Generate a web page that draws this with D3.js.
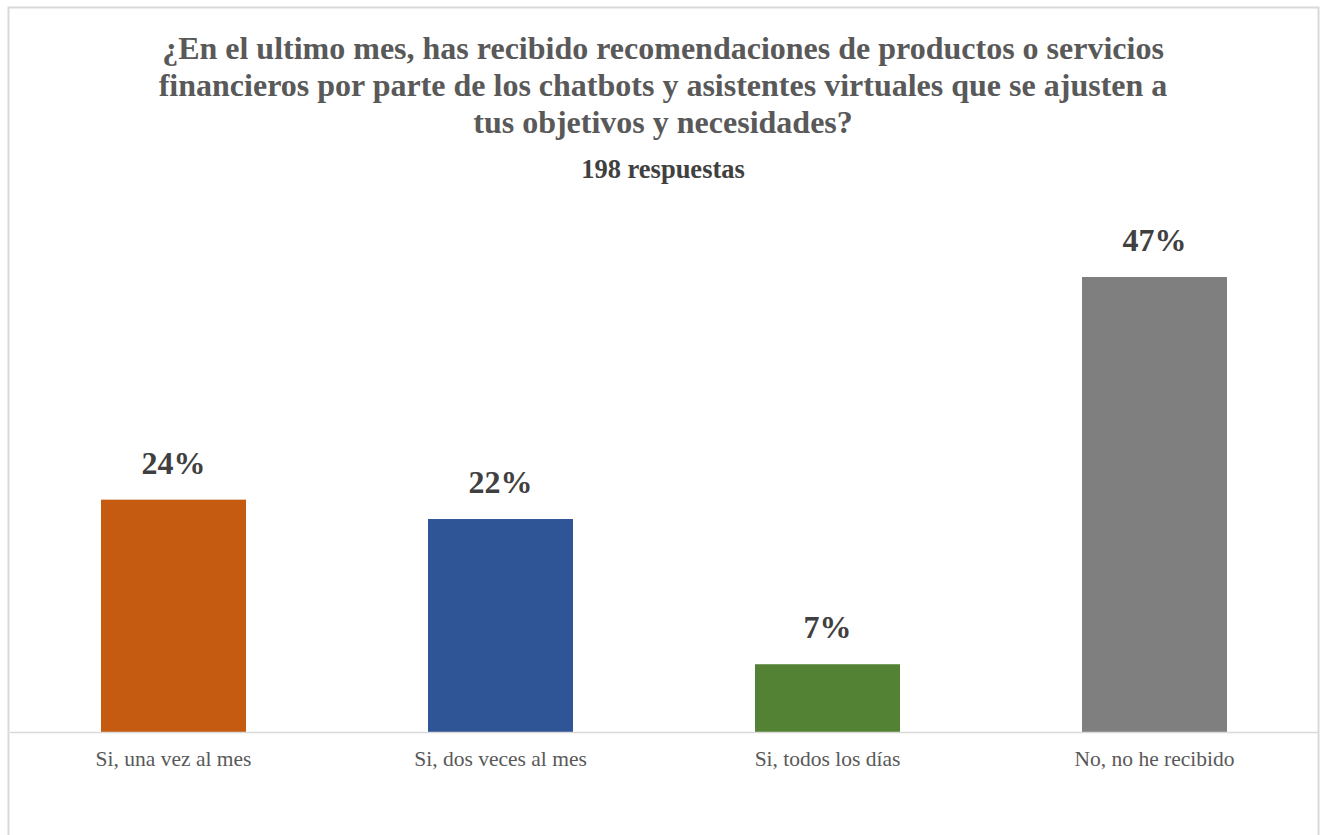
<!DOCTYPE html>
<html>
<head>
<meta charset="utf-8">
<script src="https://cdn.jsdelivr.net/npm/d3@7"></script>
<style>
  html, body { margin: 0; padding: 0; background: #ffffff; }
  svg { display: block; }
</style>
</head>
<body>
<svg id="chart" width="1320" height="835"></svg>
<script>
// Survey answers and their share of respondents (%)
const categories = ["Si, una vez al mes", "Si, dos veces al mes", "Si, todos los días", "No, no he recibido"];
const values = [24, 22, 7, 47];
const colors = ["#C55A11", "#2F5597", "#548235", "#7F7F7F"];
const titleLines = [
  "¿En el ultimo mes, has recibido recomendaciones de productos o servicios",
  "financieros por parte de los chatbots y asistentes virtuales que se ajusten a",
  "tus objetivos y necesidades?"
];
const subtitle = "198 respuestas";

const svg = d3.select("#chart");
const font = "'Liberation Serif', 'Times New Roman', serif";

// Chart frame
svg.append("rect")
  .attr("x", 8.5).attr("y", 7.5)
  .attr("width", 1310).attr("height", 840)
  .attr("fill", "#ffffff")
  .attr("stroke", "#d9d9d9").attr("stroke-width", 2);

// Title
const title = svg.append("text")
  .attr("text-anchor", "middle")
  .attr("font-family", font)
  .attr("font-weight", "bold")
  .attr("font-size", 32)
  .attr("fill", "#595959");
titleLines.forEach((line, i) => {
  title.append("tspan")
    .attr("x", 663)
    .attr("y", 59 + i * 37)
    .text(line);
});

svg.append("text")
  .attr("x", 663).attr("y", 178)
  .attr("text-anchor", "middle")
  .attr("font-family", font)
  .attr("font-weight", "bold")
  .attr("font-size", 26.5)
  .attr("fill", "#404040")
  .text(subtitle);

// Scales
const baseY = 732;
const x = d3.scaleBand()
  .domain(categories)
  .range([10, 1318])
  .paddingInner(0.5566)
  .paddingOuter(0.2783);
const y = d3.scaleLinear()
  .domain([0, 47])
  .range([baseY, 277]);

const data = categories.map((c, i) => ({ cat: c, value: values[i], color: colors[i] }));

// Bars
svg.append("g")
  .selectAll("rect")
  .data(data)
  .join("rect")
  .attr("x", d => x(d.cat))
  .attr("y", d => y(d.value))
  .attr("width", x.bandwidth())
  .attr("height", d => baseY - y(d.value))
  .attr("fill", d => d.color);

// Value labels
svg.append("g")
  .selectAll("text")
  .data(data)
  .join("text")
  .attr("x", d => x(d.cat) + x.bandwidth() / 2)
  .attr("y", d => y(d.value) - 26)
  .attr("text-anchor", "middle")
  .attr("font-family", font)
  .attr("font-weight", "bold")
  .attr("font-size", 32)
  .attr("fill", "#404040")
  .text(d => d.value + "%");

// Category axis
const axis = svg.append("g")
  .attr("transform", `translate(0,${baseY})`)
  .call(d3.axisBottom(x).tickSize(0).tickPadding(19));
axis.select(".domain")
  .attr("stroke", "#d9d9d9")
  .attr("stroke-width", 1.5)
  .attr("d", "M10,0.5H1318");
axis.selectAll("text")
  .attr("font-family", font)
  .attr("font-size", 21.5)
  .attr("fill", "#595959");
</script>
</body>
</html>
